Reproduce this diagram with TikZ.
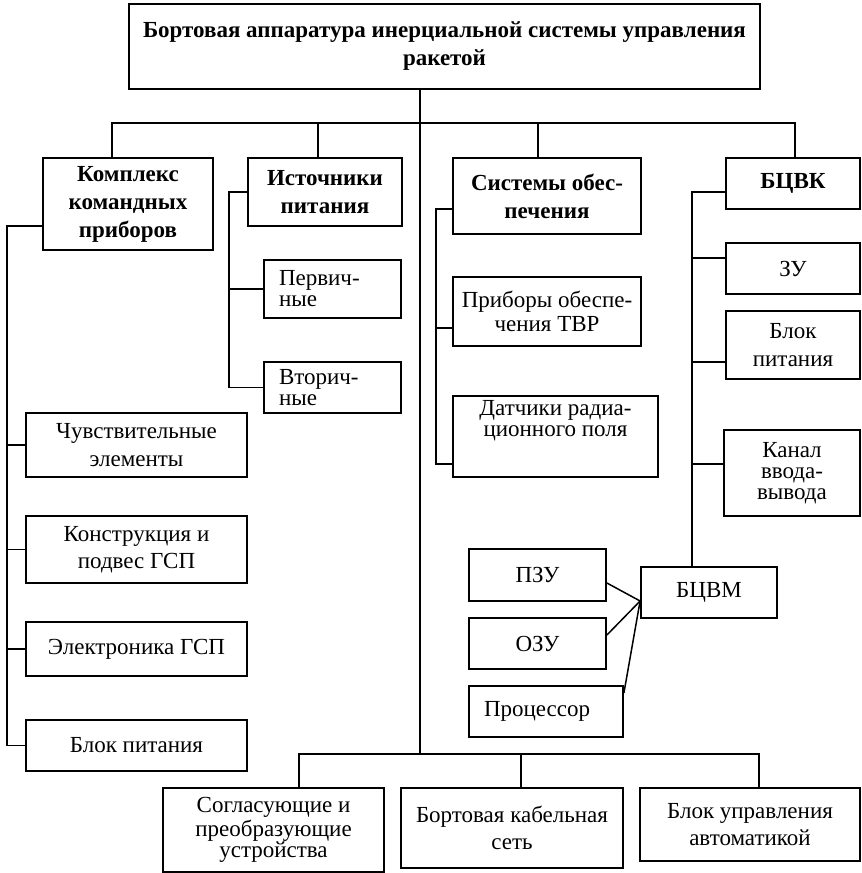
\documentclass[tikz,border=0pt]{standalone}
\usepackage{fontspec}
\setmainfont{Liberation Serif}
\usetikzlibrary{positioning}

\tikzset{
  box/.style={draw, line width=0.9pt, inner sep=0pt, align=center,
    font=\fontsize{11.5}{13.8}\selectfont},
  head/.style={box, font=\fontsize{11.5}{14}\selectfont\bfseries},
  tight/.style={font=\fontsize{11.5}{10.5}\selectfont},
  link/.style={line width=0.75pt},
}

\begin{document}
\begin{tikzpicture}[x=0.5pt, y=-0.5pt, link]
  \useasboundingbox (0,0) rectangle (862,873);

  % upper level
  \node[head, minimum width=315.5pt, minimum height=42.5pt] (top) at (444.5,46.5) {Бортовая аппаратура инерциальной системы управления\\ракетой};
  \node[head, minimum width=85pt, minimum height=46pt] (kkp) at (128,204) {Комплекс\\командных\\приборов};
  \node[head, minimum width=77pt, minimum height=34pt] (ip) at (325,192) {Источники\\питания};
  \node[head, minimum width=94pt, minimum height=38pt] (so) at (547,196) {Системы обес-\\печения};
  \node[head, minimum width=67pt, minimum height=25.5pt] (bcvk) at (793,183.5) {БЦВК};

  % command devices
  \node[box, minimum width=110.5pt, minimum height=32pt] (chuv) at (136.5,445) {Чувствительные\\элементы};
  \node[box, minimum width=110.5pt, minimum height=33.5pt] (konstr) at (136.5,549.5) {Конструкция и\\подвес ГСП};
  \node[box, minimum width=110.5pt, minimum height=27pt] (elektr) at (136.5,649) {Электроника ГСП};
  \node[box, minimum width=110.5pt, minimum height=25.5pt] (bpk) at (136.5,745.5) {Блок питания};

  % power sources
  \node[box, tight, align=left, text width=53.5pt, minimum width=68.5pt, minimum height=29pt] (perv) at (332.5,289) {Первич-\\ные};
  \node[box, tight, align=left, text width=53.5pt, minimum width=68.5pt, minimum height=25.5pt] (vtor) at (332.5,387.5) {Вторич-\\ные};

  % support systems
  \node[box, font=\fontsize{11.5}{12}\selectfont, minimum width=94pt, minimum height=34.5pt] (tvr) at (547,311.5) {Приборы обеспе-\\чения ТВР};
  \node[box, minimum width=102.5pt, minimum height=40.5pt,
    label={[tight, align=center, anchor=north, inner sep=2.5pt]north:{Датчики радиа-\\ционного поля}}] (datch) at (555.5,436.5) {};

  % onboard computer
  \node[box, minimum width=67pt, minimum height=25.5pt] (zu) at (793,268.5) {ЗУ};
  \node[box, minimum width=67pt, minimum height=34pt] (bpb) at (793,345) {Блок\\питания};
  \node[box, tight, minimum width=68pt, minimum height=43pt] (kanal) at (792,473) {Канал\\ввода-\\вывода};
  \node[box, minimum width=68pt, minimum height=25.5pt] (bcvm) at (709,592.5) {БЦВМ};
  \node[box, minimum width=68.5pt, minimum height=26pt] (pzu) at (537.5,575) {ПЗУ};
  \node[box, minimum width=68.5pt, minimum height=25.5pt] (ozu) at (537.5,643.5) {ОЗУ};
  \node[box, align=left, text width=62pt, minimum width=77pt, minimum height=25.5pt] (proc) at (546,711.5) {Процессор};

  % lower level
  \node[box, tight, minimum width=110.5pt, minimum height=42pt] (sogl) at (273.5,830) {Согласующие и\\преобразующие\\устройства};
  \node[box, minimum width=111pt, minimum height=40pt] (kab) at (512,828) {Бортовая кабельная\\сеть};
  \node[box, minimum width=110pt, minimum height=36.5pt] (avt) at (750,824.5) {Блок управления\\автоматикой};

  % trunk and buses
  \coordinate (bus) at (420,123);
  \coordinate (busb) at (420,754);
  \draw (top.south -| busb) -- (busb);
  \draw ([xshift=-8pt]kkp.north) |- (bus) -| ([xshift=1pt]bcvk.north);
  \draw ([xshift=-3.5pt]ip.north) |- (bus);
  \draw ([xshift=-4.5pt]so.north) |- (bus);
  \draw ([xshift=12.75pt]sogl.north) |- (busb) -| ([xshift=4.5pt]avt.north);
  \draw ([xshift=4.5pt]kab.north) -- ++(0,-34);

  % side branches
  \draw ([yshift=-11pt]kkp.west) -| ([xshift=-9pt]bpk.west) -- (bpk.west);
  \draw (chuv.west) -- ++(-18,0);
  \draw (konstr.west) -- ++(-18,0);
  \draw (elektr.west) -- ++(-18,0);

  \draw (ip.west) -| ([xshift=-17pt]vtor.west) -- (vtor.west);
  \draw (perv.west) -- ++(-34,0);

  \draw ([yshift=-6.5pt]so.west) -| ([xshift=-8pt,yshift=-13.75pt]datch.west) -- ([yshift=-13.75pt]datch.west);
  \draw ([yshift=-8.25pt]tvr.west) -- ++(-16,0);

  \draw ([yshift=-4.25pt]bcvk.west) -| ([xshift=-8.5pt]bcvm.north);
  \draw ([yshift=5.25pt]zu.west) -- ++(-34,0);
  \draw ([yshift=-8.5pt]bpb.west) -- ++(-34,0);
  \draw ([yshift=4.5pt]kanal.west) -- ++(-32,0);

  \path ([yshift=-4pt]pzu.east) edge ([yshift=-4.25pt]bcvm.west)
        ([yshift=4.25pt]ozu.east) edge ([yshift=-4.25pt]bcvm.west)
        ([yshift=9.25pt]proc.east) edge ([yshift=-4.25pt]bcvm.west);
\end{tikzpicture}
\end{document}
